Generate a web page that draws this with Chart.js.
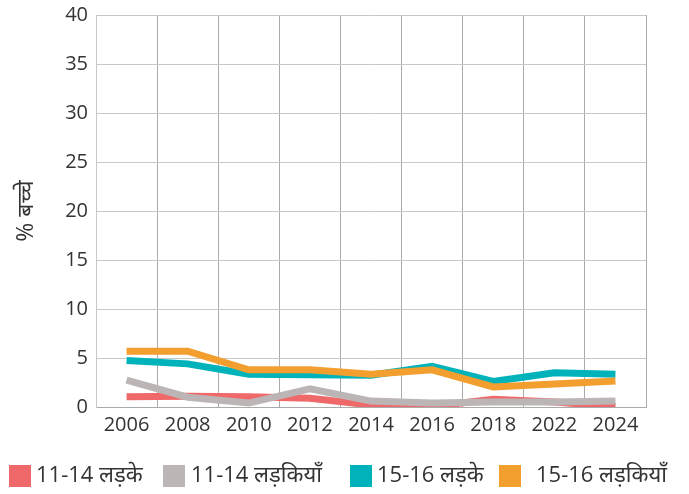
<!DOCTYPE html>
<html>
<head>
<meta charset="utf-8">
<script src="https://cdn.jsdelivr.net/npm/chart.js@4/dist/chart.umd.min.js"></script>
<style>
  html, body { margin: 0; padding: 0; background: #fff; }
  #wrap { width: 689px; height: 494px; position: relative; }
</style>
</head>
<body>
<div id="wrap"><canvas id="c" width="689" height="494"></canvas></div>
<script>
const years = ['2006', '2008', '2010', '2012', '2014', '2016', '2018', '2022', '2024'];
const boys1114 = [1.05, 1.1, 1.05, 0.9, 0.2, 0.05, 0.8, 0.5, 0.05];
const girls1114 = [2.75, 1.0, 0.4, 1.85, 0.6, 0.4, 0.5, 0.5, 0.6];
const boys1516 = [4.75, 4.4, 3.35, 3.3, 3.25, 4.15, 2.6, 3.5, 3.35];
const girls1516 = [5.7, 5.7, 3.8, 3.8, 3.35, 3.8, 2.05, 2.35, 2.65];
const seriesNames = ['11-14 लड़के', '11-14 लड़कियाँ', '15-16 लड़के', '15-16 लड़कियाँ'];
const yTitle = '% बच्चे';

const FONT = "'Open Sans', 'Noto Sans', 'Noto Sans Devanagari', 'Lohit Devanagari', sans-serif";
const colors = ['#f0696a', '#bbb6b5', '#00b3bb', '#f29f30'];
const values = [boys1114, girls1114, boys1516, girls1516];

// legend layout (box left edge, gap from box to text)
const legendBoxX = [9, 163, 350, 499];
const legendTextGap = [5, 6, 5, 15];

const datasets = values.map((v, i) => ({
  label: seriesNames[i],
  data: v,
  borderColor: colors[i],
  backgroundColor: colors[i],
  borderWidth: 7,
  pointRadius: 0,
  pointHoverRadius: 0,
  tension: 0,
  fill: false,
  borderCapStyle: 'butt',
  borderJoinStyle: 'miter',
  order: 4 - i
}));

const customLegend = {
  id: 'customLegend',
  afterDraw(chart) {
    const ctx = chart.ctx;
    ctx.save();
    ctx.font = "22px " + FONT;
    ctx.textBaseline = 'middle';
    ctx.textAlign = 'left';
    chart.data.datasets.forEach((d, i) => {
      const bx = legendBoxX[i];
      const by = 465;
      ctx.fillStyle = d.borderColor;
      ctx.fillRect(bx, by, 22, 22);
      ctx.fillStyle = '#333';
      ctx.fillText(d.label, bx + 22 + legendTextGap[i], by + 11);
    });
    ctx.restore();
  }
};

new Chart(document.getElementById('c'), {
  type: 'line',
  data: { labels: years, datasets },
  options: {
    responsive: false,
    animation: false,
    events: [],
    layout: { padding: { top: 15, right: 43, bottom: 47, left: 0 } },
    plugins: {
      tooltip: { enabled: false },
      legend: { display: false }
    },
    scales: {
      x: {
        offset: true,
        grid: { offset: true, color: '#aaaaaa', lineWidth: 1, drawTicks: false },
        border: { color: '#aaaaaa', width: 1 },
        ticks: { color: '#333', font: { family: FONT, size: 20 }, padding: 6, maxRotation: 0, autoSkip: false },
        afterFit: (s) => { s.height = 40; s.paddingLeft = 0; s.paddingRight = 0; }
      },
      y: {
        min: 0,
        max: 40,
        grid: { color: '#c8c8c8', lineWidth: 1, drawTicks: false },
        border: { color: '#c8c8c8', width: 1 },
        ticks: { stepSize: 5, color: '#333', font: { family: FONT, size: 20 }, padding: 8 },
        title: { display: true, text: yTitle, color: '#333', font: { family: FONT, size: 23 }, padding: { top: 13, bottom: 0 } },
        afterFit: (s) => { s.width = 96; s.paddingTop = 0; s.paddingBottom = 0; }
      }
    }
  },
  plugins: [customLegend]
});
</script>
</body>
</html>
